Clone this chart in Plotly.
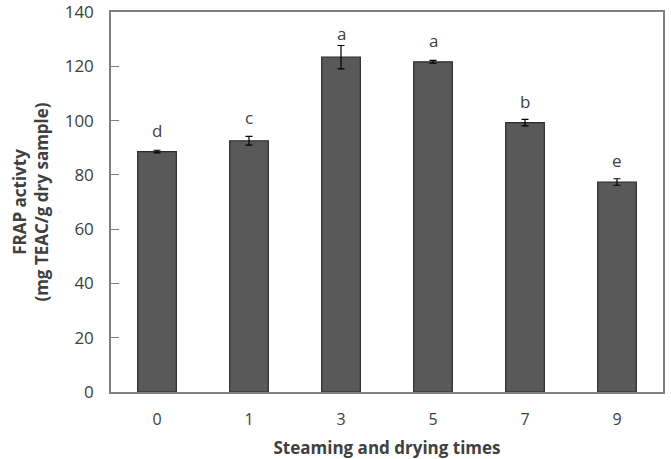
import plotly.graph_objects as go

categories = ["0", "1", "3", "5", "7", "9"]
values = [88.6, 92.6, 123.4, 121.7, 99.3, 77.4]
errors = [0.5, 1.6, 4.3, 0.5, 1.2, 1.2]
letters = ["d", "c", "a", "a", "b", "e"]
letter_y = [96.2, 101.0, 132.3, 129.4, 107.2, 85.3]
y_ticks = [0, 20, 40, 60, 80, 100, 120, 140]

FONT = "Open Sans"
TXT = "#404040"

fig = go.Figure()
fig.add_trace(go.Bar(
    x=categories, y=values,
    marker=dict(color="#595959", line=dict(color="#2b2b2b", width=1.2)),
    error_y=dict(type="data", array=errors, color="black", thickness=1.2, width=3.5),
    width=0.42,
))

for i, (l, ly) in enumerate(zip(letters, letter_y)):
    fig.add_annotation(x=i, y=ly, text=l, showarrow=False, yanchor="middle",
                       font=dict(family=FONT, size=17, color=TXT))

fig.update_layout(
    width=671, height=459,
    margin=dict(l=111, r=8, t=12, b=67),
    plot_bgcolor="white", paper_bgcolor="white",
    showlegend=False,
    font=dict(family=FONT, color=TXT),
    xaxis=dict(
        type="category", showline=True, linecolor="#7f7f7f", linewidth=1.5, mirror=True, automargin=False,
        ticks="", tickfont=dict(size=16, color=TXT), showgrid=False, ticklabelstandoff=12,
        title=dict(text="<b>Steaming and drying times</b>", font=dict(size=17, color=TXT), standoff=14),
    ),
    yaxis=dict(
        range=[0, 140.05], tickvals=y_ticks, showline=True, linecolor="#7f7f7f", linewidth=1.5, mirror=True,
        automargin=False,
        ticks="inside", ticklen=8, tickcolor="#7f7f7f", tickwidth=1.2, showgrid=False, zeroline=False,
        tickfont=dict(size=17, color=TXT), ticklabelstandoff=12, ticklabeloverflow="allow",
        title=dict(text="<b>FRAP activty<br>(mg TEAC/g dry sample)</b>", font=dict(size=17, color=TXT), standoff=12),
    ),
)

fig.write_html("out.html")
